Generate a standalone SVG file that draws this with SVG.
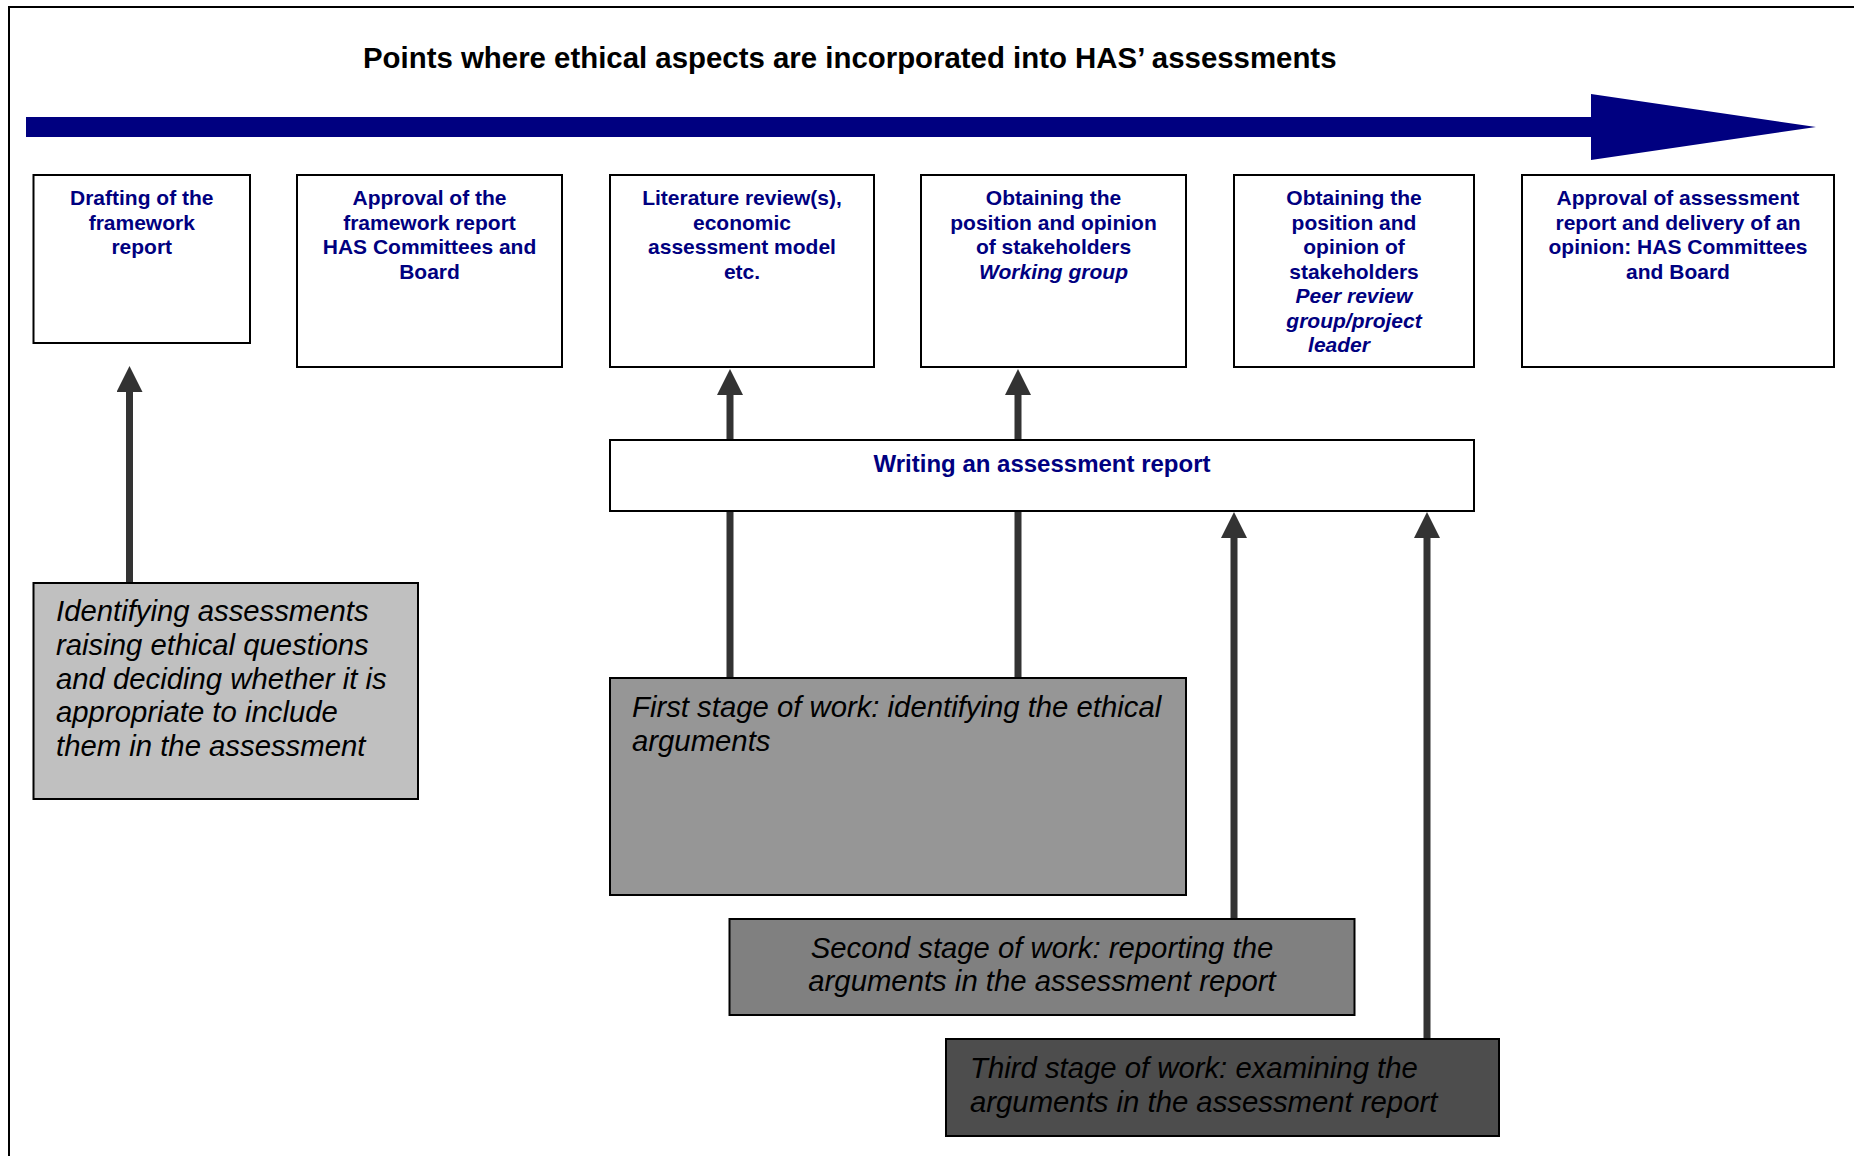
<svg xmlns="http://www.w3.org/2000/svg" width="1854" height="1156" viewBox="0 0 1854 1156">
<style>
.frame{fill:none;stroke:#000;stroke-width:2}
.box{fill:#fff;stroke:#000;stroke-width:2}
.bt{font-family:"Liberation Sans",Arial,sans-serif;font-size:21px;font-weight:bold;fill:#000080;text-anchor:middle}
.bti{font-style:italic}
.big{font-size:24px}
.st{font-family:"Liberation Sans",Arial,sans-serif;font-size:29.3px;font-style:italic;fill:#000}
.conn{stroke:#333;stroke-width:7;fill:none;marker-end:url(#ah)}
</style>
<defs>
<marker id="ah" markerUnits="userSpaceOnUse" markerWidth="26" markerHeight="26" viewBox="0 0 26 26" refX="0" refY="13" orient="auto">
<path d="M0,0 L26,13 L0,26 Z" fill="#333"/>
</marker>
</defs>
<rect width="1854" height="1156" fill="#fff"/>
<path class="frame" d="M9,1160 V7 H1860"/>
<text x="363" y="68" font-family="'Liberation Sans',Arial,sans-serif" font-size="29.4" font-weight="bold" fill="#000">Points where ethical aspects are incorporated into HAS’ assessments</text>
<path id="timeline" d="M26,117 H1591 V94 L1816,127 L1591,160 V137 H26 Z" fill="#000080"/>
<g id="connectors">
<line class="conn" x1="129.5" y1="583" x2="129.5" y2="392"/>
<line class="conn" x1="730" y1="678" x2="730" y2="395"/>
<line class="conn" x1="1018" y1="678" x2="1018" y2="395"/>
<line class="conn" x1="1234" y1="919" x2="1234" y2="538"/>
<line class="conn" x1="1427" y1="1039" x2="1427" y2="538"/>
</g>
<g id="n1">
<rect class="box" x="33.5" y="175" width="216.5" height="168"/>
<text class="bt"><tspan x="141.75" y="205">Drafting of the</tspan><tspan x="141.75" y="229.5">framework</tspan><tspan x="141.75" y="254">report</tspan></text>
</g>
<g id="n2">
<rect class="box" x="297" y="175" width="265" height="192"/>
<text class="bt"><tspan x="429.5" y="205">Approval of the</tspan><tspan x="429.5" y="229.5">framework report</tspan><tspan x="429.5" y="254">HAS Committees and</tspan><tspan x="429.5" y="278.5">Board</tspan></text>
</g>
<g id="n3">
<rect class="box" x="610" y="175" width="264" height="192"/>
<text class="bt"><tspan x="742" y="205">Literature review(s),</tspan><tspan x="742" y="229.5">economic</tspan><tspan x="742" y="254">assessment model</tspan><tspan x="742" y="278.5">etc.</tspan></text>
</g>
<g id="n4">
<rect class="box" x="921" y="175" width="265" height="192"/>
<text class="bt"><tspan x="1053.5" y="205">Obtaining the</tspan><tspan x="1053.5" y="229.5">position and opinion</tspan><tspan x="1053.5" y="254">of stakeholders</tspan><tspan class="bti" x="1053.5" y="278.5">Working group</tspan></text>
</g>
<g id="n5">
<rect class="box" x="1234" y="175" width="240" height="192"/>
<text class="bt"><tspan x="1354" y="205">Obtaining the</tspan><tspan x="1354" y="229.5">position and</tspan><tspan x="1354" y="254">opinion of</tspan><tspan x="1354" y="278.5">stakeholders</tspan><tspan class="bti" x="1354" y="303">Peer review</tspan><tspan class="bti" x="1354" y="327.5">group/project</tspan><tspan class="bti" x="1339" y="352">leader</tspan></text>
</g>
<g id="n6">
<rect class="box" x="1522" y="175" width="312" height="192"/>
<text class="bt"><tspan x="1678" y="205">Approval of assessment</tspan><tspan x="1678" y="229.5">report and delivery of an</tspan><tspan x="1678" y="254">opinion: HAS Committees</tspan><tspan x="1678" y="278.5">and Board</tspan></text>
</g>
<g id="n7">
<rect class="box" x="610" y="440" width="864" height="71"/>
<text class="bt big" x="1042" y="472">Writing an assessment report</text>
</g>
<g id="n8">
<rect x="33.5" y="583" width="384.5" height="216" fill="#c0c0c0" stroke="#000" stroke-width="2"/>
<text class="st"><tspan x="56" y="621">Identifying assessments</tspan><tspan x="56" y="654.8">raising ethical questions</tspan><tspan x="56" y="688.6">and deciding whether it is</tspan><tspan x="56" y="722.4">appropriate to include</tspan><tspan x="56" y="756.2">them in the assessment</tspan></text>
</g>
<g id="n9">
<rect x="610" y="678" width="576" height="217" fill="#969696" stroke="#000" stroke-width="2"/>
<text class="st"><tspan x="632" y="717">First stage of work: identifying the ethical</tspan><tspan x="632" y="751">arguments</tspan></text>
</g>
<g id="n10">
<rect x="729.5" y="919" width="625" height="96" fill="#808080" stroke="#000" stroke-width="2"/>
<text class="st" text-anchor="middle"><tspan x="1042" y="958">Second stage of work: reporting the</tspan><tspan x="1042" y="991">arguments in the assessment report</tspan></text>
</g>
<g id="n11">
<rect x="946" y="1039" width="553" height="97" fill="#4d4d4d" stroke="#000" stroke-width="2"/>
<text class="st"><tspan x="970" y="1078">Third stage of work: examining the</tspan><tspan x="970" y="1112">arguments in the assessment report</tspan></text>
</g>
</svg>
